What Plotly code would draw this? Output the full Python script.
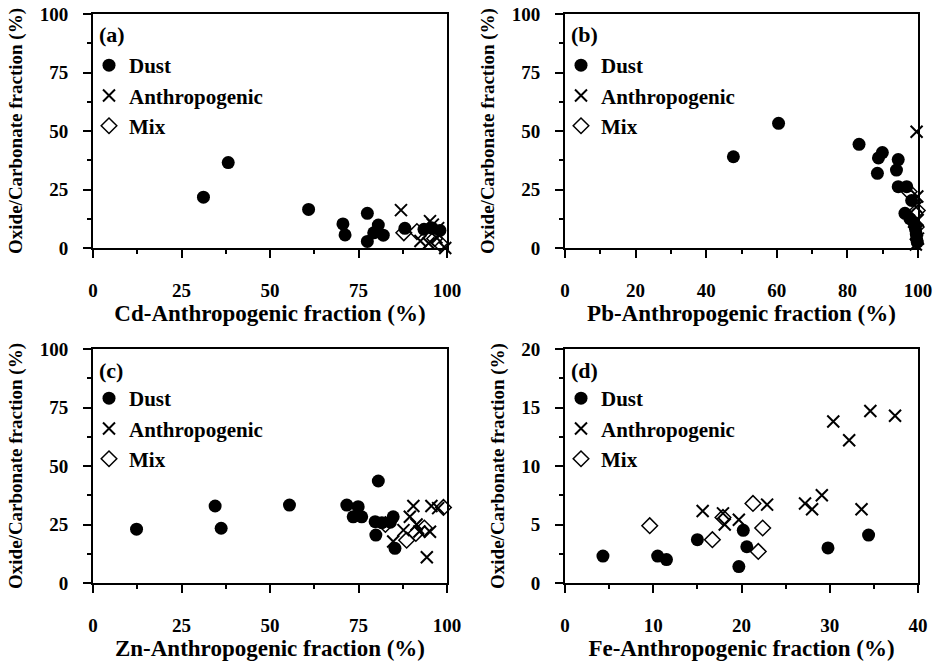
import plotly.graph_objects as go

# ---------------- data ----------------
# Panel (a) Cd
dust_a_x = [31.2, 38.2, 60.9, 70.6, 71.2, 77.5, 77.5, 79.3, 80.6, 82.0, 88.1, 93.5, 95.8, 98.0]
dust_a_y = [21.7, 36.5, 16.5, 10.3, 5.6, 14.8, 2.8, 6.5, 9.8, 5.5, 8.4, 8.0, 8.5, 7.5]
anth_a_x = [87.0, 95.2, 97.5, 92.5, 94.8, 97.0, 99.5, 96.0]
anth_a_y = [16.2, 11.5, 8.5, 3.0, 2.0, 4.5, 0.0, 10.0]
mix_a_x = [87.8, 91.5, 96.5, 98.0]
mix_a_y = [6.5, 7.0, 4.0, 2.0]

# Panel (b) Pb
dust_b_x = [47.7, 60.5, 83.3, 88.8, 89.9, 88.5, 94.4, 93.9, 94.4, 96.8, 98.2, 96.3, 97.7,
            99.0, 99.3, 99.5, 99.6, 99.8]
dust_b_y = [39.0, 53.3, 44.3, 38.5, 40.8, 31.9, 37.8, 33.3, 26.2, 26.2, 20.3, 14.8, 12.5,
            10.0, 8.0, 6.0, 4.0, 2.5]
anth_b_x = [99.6, 99.8, 99.5, 99.9, 99.7, 100.0, 99.4]
anth_b_y = [49.7, 22.0, 17.5, 12.0, 7.5, 4.0, 1.5]
mix_b_x = [97.5, 99.8, 99.5]
mix_b_y = [24.0, 16.0, 9.0]

# Panel (c) Zn
dust_c_x = [12.3, 34.5, 36.2, 55.5, 71.7, 74.9, 73.5, 75.9, 80.6, 79.7, 81.6, 79.9, 84.8, 84.0, 85.3]
dust_c_y = [23.0, 32.9, 23.4, 33.3, 33.3, 32.6, 28.3, 28.3, 43.6, 26.2, 25.8, 20.5, 28.3, 26.0, 14.8]
anth_c_x = [90.5, 89.5, 95.6, 97.5, 94.3, 95.2, 91.4, 92.2, 87.7, 84.8]
anth_c_y = [32.9, 28.3, 32.9, 32.0, 11.0, 21.9, 25.0, 22.0, 22.6, 17.7]
mix_c_x = [99.0, 88.6, 82.6, 91.2, 93.6]
mix_c_y = [32.3, 18.3, 25.0, 21.2, 23.5]

# Panel (d) Fe
dust_d_x = [4.3, 10.5, 11.5, 15.0, 20.2, 20.6, 19.7, 29.8, 34.4]
dust_d_y = [2.3, 2.3, 2.0, 3.7, 4.5, 3.1, 1.4, 3.0, 4.1]
anth_d_x = [15.6, 17.9, 18.1, 19.7, 22.9, 27.2, 28.0, 29.1, 30.4, 32.2, 33.6, 34.6, 37.4]
anth_d_y = [6.15, 5.95, 5.0, 5.4, 6.7, 6.8, 6.3, 7.5, 13.8, 12.2, 6.3, 14.7, 14.3]
mix_d_x = [9.6, 16.7, 21.3, 22.4, 21.9, 17.9]
mix_d_y = [4.9, 3.7, 6.8, 4.7, 2.7, 5.6]

panel_labels = ["(a)", "(b)", "(c)", "(d)"]
x_titles = ["Cd-Anthropogenic fraction (%)", "Pb-Anthropogenic fraction (%)",
            "Zn-Anthropogenic fraction (%)", "Fe-Anthropogenic fraction (%)"]
y_title = "Oxide/Carbonate fraction (%)"
series_names = ["Dust", "Anthropogenic", "Mix"]

panels = [
    (dust_a_x, dust_a_y, anth_a_x, anth_a_y, mix_a_x, mix_a_y),
    (dust_b_x, dust_b_y, anth_b_x, anth_b_y, mix_b_x, mix_b_y),
    (dust_c_x, dust_c_y, anth_c_x, anth_c_y, mix_c_x, mix_c_y),
    (dust_d_x, dust_d_y, anth_d_x, anth_d_y, mix_d_x, mix_d_y),
]
x_ranges = [(0, 100, 25), (0, 100, 20), (0, 100, 25), (0, 40, 10)]
y_ranges = [(0, 100, 25), (0, 100, 25), (0, 100, 25), (0, 20, 5)]

# ---------------- layout geometry ----------------
W, H = 938, 662
x_doms = [(93, 447), (565, 918), (93, 447), (565, 918)]
y_doms = [(14, 248), (14, 248), (349, 583), (349, 583)]
leg_off = [31, 31, 29, 29]

FONT = "Liberation Serif, Times New Roman, serif"

fig = go.Figure()

for i, (dx, dy, ax_, ay_, mx, my) in enumerate(panels):
    n = "" if i == 0 else str(i + 1)
    xa, ya = "x" + n, "y" + n
    leg = "legend" + n
    common = dict(xaxis=xa, yaxis=ya, mode="markers", cliponaxis=False, legend=leg,
                  hoverinfo="skip")
    fig.add_trace(go.Scatter(x=dx, y=dy, name=series_names[0],
                             marker=dict(symbol="circle", size=13, color="black"), **common))
    fig.add_trace(go.Scatter(x=ax_, y=ay_, name=series_names[1],
                             marker=dict(symbol="x-thin", size=12, color="black",
                                         line=dict(width=2, color="black")), **common))
    fig.add_trace(go.Scatter(x=mx, y=my, name=series_names[2],
                             marker=dict(symbol="diamond-open", size=12, color="black",
                                         line=dict(width=1.5, color="black")), **common))

    x0, x1 = x_doms[i]
    y0, y1 = y_doms[i]
    xr, yr = x_ranges[i], y_ranges[i]
    axis_common = dict(showgrid=False, zeroline=False, showline=True, linewidth=2,
                       linecolor="black", mirror=True, ticks="outside", ticklen=8,
                       tickwidth=2, tickcolor="black", automargin=False,
                       tickfont=dict(family=FONT, size=19, color="black", weight="bold"))
    fig.layout["xaxis" + n] = dict(
        domain=[x0 / W, x1 / W], range=[xr[0], xr[1]], dtick=xr[2], tick0=0,
        anchor=ya, ticklabelstandoff=16,
        minor=dict(dtick=xr[2] / 2, ticks="outside", ticklen=4, tickwidth=2, tickcolor="black"),
        title=dict(text=x_titles[i], standoff=0,
                   font=dict(family=FONT, size=23, color="black", weight="bold")),
        **axis_common)
    fig.layout["yaxis" + n] = dict(
        domain=[1 - y1 / H, 1 - y0 / H], range=[yr[0], yr[1]], dtick=yr[2], tick0=0,
        anchor=xa, ticklabelstandoff=11,
        minor=dict(dtick=yr[2] / 2, ticks="outside", ticklen=4, tickwidth=2, tickcolor="black"),
        title=dict(text=y_title, standoff=12,
                   font=dict(family=FONT, size=19, color="black", weight="bold")),
        **axis_common)

    fig.layout[leg] = dict(
        x=(x0 - 4) / W, xanchor="left", y=1 - (y0 + leg_off[i]) / H, yanchor="top",
        bgcolor="rgba(0,0,0,0)", borderwidth=0, itemsizing="trace",
        tracegroupgap=0,
        font=dict(family=FONT, size=21, color="black", weight="bold"))

    fig.add_annotation(text=panel_labels[i], xref="paper", yref="paper",
                       x=(x0 + 4) / W, y=1 - (y0 + 21) / H, xanchor="left", yanchor="middle",
                       showarrow=False,
                       font=dict(family=FONT, size=22, color="black", weight="bold"))

fig.update_layout(width=W, height=H, margin=dict(l=0, r=0, t=0, b=0, autoexpand=False),
                  paper_bgcolor="white", plot_bgcolor="white", showlegend=True,
                  hovermode=False)

fig.write_html("out.html", config={"displayModeBar": False},
               post_script="document.body.style.margin='0';document.body.style.padding='0';")
